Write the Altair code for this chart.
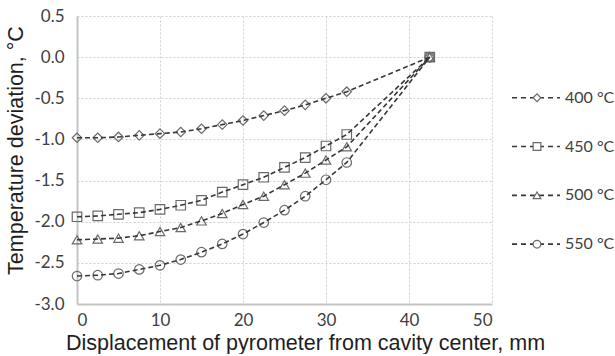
import altair as alt
import pandas as pd

# Pyrometer displacement from the cavity centre, mm
positions = [0, 2.5, 5, 7.5, 10, 12.5, 15, 17.5, 20, 22.5, 25, 27.5, 30, 32.5, 42.5]

# Temperature deviation, °C, for each furnace set point
dev_400 = [-0.98, -0.98, -0.97, -0.95, -0.93, -0.91, -0.87, -0.82, -0.77, -0.71, -0.65, -0.58, -0.50, -0.42, 0.0]
dev_450 = [-1.94, -1.93, -1.91, -1.89, -1.85, -1.80, -1.74, -1.64, -1.55, -1.46, -1.34, -1.22, -1.08, -0.94, 0.0]
dev_500 = [-2.22, -2.21, -2.20, -2.17, -2.12, -2.07, -1.99, -1.90, -1.79, -1.69, -1.55, -1.41, -1.25, -1.09, 0.0]
dev_550 = [-2.66, -2.65, -2.63, -2.58, -2.53, -2.46, -2.37, -2.27, -2.15, -2.01, -1.86, -1.69, -1.49, -1.28, 0.0]

series_labels = ["400 °C", "450 °C", "500 °C", "550 °C"]
series_shapes = ["diamond", "square", "triangle-up", "circle"]
series_values = [dev_400, dev_450, dev_500, dev_550]

x_ticks = [0, 10, 20, 30, 40, 50]
y_ticks = [-3.0, -2.5, -2.0, -1.5, -1.0, -0.5, 0.0, 0.5]

rows = []
for label, values in zip(series_labels, series_values):
    for pos, val in zip(positions, values):
        rows.append({"pos": pos, "dev": val, "series": label})
df = pd.DataFrame(rows)

LINE = "#383838"
MARK = "#6a6a6a"
TXT = "#404040"

shape_scale = alt.Scale(domain=series_labels, range=series_shapes)

x_enc = alt.X(
    "pos:Q",
    scale=alt.Scale(domain=[0, 50], nice=False),
    axis=alt.Axis(
        values=x_ticks,
        title="Displacement of pyrometer from cavity center, mm",
        labelPadding=8,
        titlePadding=4,
        titleX=228,
    ),
)
y_enc = alt.Y(
    "dev:Q",
    scale=alt.Scale(domain=[-3.0, 0.5], nice=False),
    axis=alt.Axis(
        values=y_ticks,
        labelExpr="(datum.value < 0 ? '-' : '') + format(abs(datum.value), '.1f')",
        title="Temperature deviation, °C",
        labelPadding=13,
        titlePadding=6,
        titleY=134,
    ),
)

lines = alt.Chart(df).mark_line(
    strokeDash=[5, 3], color=LINE, strokeWidth=1.6
).encode(x=x_enc, y=y_enc, detail="series:N")

points = alt.Chart(df).mark_point(
    filled=False, size=90, color=MARK, strokeWidth=1.2, opacity=1
).encode(
    x="pos:Q",
    y="dev:Q",
    shape=alt.Shape("series:N", scale=shape_scale, legend=None),
)

main = alt.layer(points, lines).properties(width=415, height=288)

# Hand-built legend: dashed stub, marker and label for every series
leg = pd.DataFrame({
    "series": series_labels,
    "row": list(range(len(series_labels))),
})
leg["x0"] = 12
leg["x1"] = 60
leg["xm"] = 37
leg["xt"] = 65

lx = alt.Scale(domain=[0, 115], nice=False)
ly = alt.Scale(domain=[-1.674, 4.226], nice=False, reverse=True)

leg_lines = alt.Chart(leg).mark_rule(
    strokeDash=[5, 4], color=LINE, strokeWidth=1.6
).encode(
    x=alt.X("x0:Q", scale=lx, axis=None),
    x2="x1:Q",
    y=alt.Y("row:Q", scale=ly, axis=None),
)
leg_points = alt.Chart(leg).mark_point(
    filled=True, fill="white", stroke=MARK, size=60, strokeWidth=1.2, opacity=1
).encode(
    x=alt.X("xm:Q", scale=lx, axis=None),
    y=alt.Y("row:Q", scale=ly, axis=None),
    shape=alt.Shape("series:N", scale=shape_scale, legend=None),
)
leg_text = alt.Chart(leg).mark_text(
    align="left", baseline="middle", font="Lato", fontSize=16, color=TXT
).encode(
    x=alt.X("xt:Q", scale=lx, axis=None),
    y=alt.Y("row:Q", scale=ly, axis=None),
    text="series:N",
)
legend = alt.layer(leg_lines, leg_points, leg_text).properties(width=115, height=288)

chart = alt.hconcat(main, legend, spacing=8, bounds="flush").resolve_scale(
    x="independent", y="independent", shape="shared"
).configure(
    padding={"left": 5, "top": 7, "right": 0, "bottom": 0},
    background="white",
).configure_view(
    stroke=None
).configure_axis(
    grid=True,
    gridColor="#cfcfcf",
    gridDash=[2, 2],
    gridWidth=1,
    domainColor="#c4c4c4",
    domainWidth=2,
    ticks=False,
    labelFont="Lato",
    labelFontSize=17,
    labelColor=TXT,
    titleFont="Liberation Sans",
    titleFontSize=21.5,
    titleFontWeight="normal",
    titleColor="#1e1e1e",
)

chart.save("out.html", embed_options={"renderer": "svg", "actions": False})
